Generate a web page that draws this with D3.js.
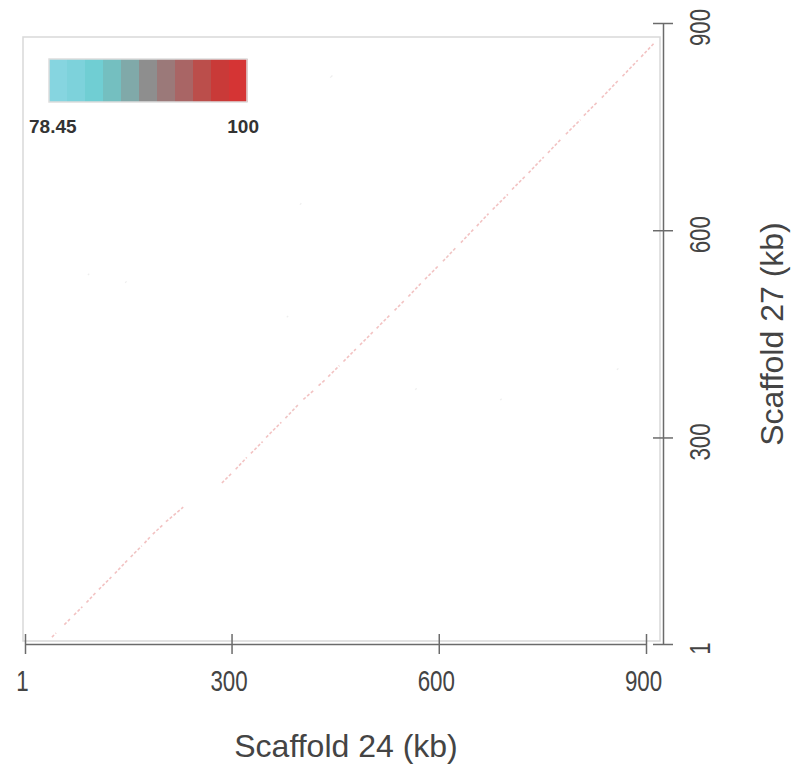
<!DOCTYPE html>
<meta charset="utf-8">
<style>
	body { margin:0; background:#fff; }
	svg { display:block; }
</style>
<script src="https://d3js.org/d3.v7.min.js"></script>
<body>
<div id="chart"></div>
<script>
	// axis ticks (kb)
	var xTicks = [1, 300, 600, 900];
	var yTicks = [1, 300, 600, 900];

	// identity legend: min / max and the 11 colour steps
	var identityRange = [78.45, 100];
	var legendColors = ["#86d5e0", "#7dd2db", "#70ced3", "#74bfc0", "#80a9a9", "#8e8e8e",
		"#9b7979", "#a96565", "#bb4e4b", "#c93a38", "#d53434"];

	// alignment segments along the synteny diagonal: [x1, y1, x2, y2] in kb, identity %
	var diagSegs = [
		[40,11,46,17],[58,29,66,37],[72,43,84,55],[90,61,104,76],[108,80,126,98],
		[131,103,150,123],[154,127,170,143],[174,147,182,156],[186,160,200,173],[205,178,230,199],
		[286,234,300,248],[306,254,322,271],[328,277,345,294],[350,300,372,322],[378,328,398,349],
		[404,355,420,369],[426,375,435,383],[440,388,456,404],[462,410,480,428],[486,434,505,453],
		[510,458,530,478],[536,484,551,499],[556,504,575,524],[580,529,600,549],[606,555,625,575],
		[632,582,650,601],[655,606,672,624],[678,630,700,652],[706,659,725,678],[730,683,752,706],
		[758,712,778,733],[784,739,805,760],[810,766,830,786],[836,792,860,817],[866,823,888,846],
		[893,851,911,870]
	];
	var diagIdentity = [99, 100, 99, 100, 99, 100, 98, 100, 99, 100, 99, 100, 99, 100, 98, 100,
		99, 100, 99, 100, 99, 100, 99, 100, 98, 100, 99, 100, 99, 100, 99, 100, 99, 100, 99, 100];

	// scattered faint hits off the diagonal
	var strayHits = [[443,821,446,824],[92,535,94,537],[146,524,148,526],[399,637,401,639],
		[380,474,382,476],[566,369,568,371],[689,354,691,356],[858,398,860,400]];

	var width = 793, height = 767;
	var svg = d3.select("#chart").append("svg")
		.attr("width", width)
		.attr("height", height);

	var x = d3.scaleLinear().domain([1, 900]).range([25, 646]);
	var y = d3.scaleLinear().domain([1, 900]).range([644, 23]);

	var color = d3.scaleQuantize().domain(identityRange).range(legendColors);

	// plot frame
	svg.append("rect")
		.attr("x", 23).attr("y", 37)
		.attr("width", 637).attr("height", 604)
		.attr("fill", "none")
		.attr("stroke", "#d9d9d9")
		.attr("stroke-width", 1.5);

	// alignments
	svg.append("g").selectAll("line")
		.data(diagSegs)
		.enter().append("line")
		.attr("x1", function(d) { return x(d[0]); })
		.attr("y1", function(d) { return y(d[1]); })
		.attr("x2", function(d) { return x(d[2]); })
		.attr("y2", function(d) { return y(d[3]); })
		.attr("stroke", function(d, i) { return color(diagIdentity[i]); })
		.attr("stroke-opacity", 0.3)
		.attr("stroke-width", 1.6)
		.attr("stroke-dasharray", "3,2");

	svg.append("g").selectAll("line")
		.data(strayHits)
		.enter().append("line")
		.attr("x1", function(d) { return x(d[0]); })
		.attr("y1", function(d) { return y(d[1]); })
		.attr("x2", function(d) { return x(d[2]); })
		.attr("y2", function(d) { return y(d[3]); })
		.attr("stroke", "#bbbbbb")
		.attr("stroke-opacity", 0.25)
		.attr("stroke-width", 1.2);

	// x axis
	var gx = svg.append("g")
		.attr("transform", "translate(0,644)")
		.call(d3.axisBottom(x).tickValues(xTicks).tickSize(10).tickSizeOuter(0));
	gx.select(".domain").attr("stroke", "#6b6b6b").attr("stroke-width", 1.5);
	gx.selectAll(".tick line").attr("y1", -10).attr("y2", 10)
		.attr("stroke", "#6b6b6b").attr("stroke-width", 1.5);
	gx.selectAll(".tick text")
		.attr("y", 47).attr("dy", 0)
		.attr("transform", "translate(-3,0) scale(0.77,1)")
		.attr("fill", "#444")
		.style("font", "29px 'Liberation Sans', Arial, sans-serif");

	// y axis (right side)
	var gy = svg.append("g")
		.attr("transform", "translate(663,0)")
		.call(d3.axisRight(y).tickValues(yTicks).tickSize(10).tickSizeOuter(0));
	gy.select(".domain").attr("stroke", "#6b6b6b").attr("stroke-width", 1.5);
	gy.selectAll(".tick line").attr("x1", -10).attr("x2", 10)
		.attr("stroke", "#6b6b6b").attr("stroke-width", 1.5);
	gy.selectAll(".tick text")
		.attr("x", 0).attr("dy", 0)
		.attr("text-anchor", "middle")
		.attr("transform", "translate(47,4) rotate(-90) scale(0.77,1)")
		.attr("fill", "#444")
		.style("font", "29px 'Liberation Sans', Arial, sans-serif");

	// axis titles
	svg.append("text")
		.attr("x", 346).attr("y", 757)
		.attr("text-anchor", "middle")
		.attr("fill", "#444")
		.style("font", "32px 'Liberation Sans', Arial, sans-serif")
		.text("Scaffold 24 (kb)");

	svg.append("text")
		.attr("transform", "translate(783,334) rotate(-90)")
		.attr("text-anchor", "middle")
		.attr("fill", "#444")
		.style("font", "32px 'Liberation Sans', Arial, sans-serif")
		.text("Scaffold 27 (kb)");

	// identity colour bar
	var lx = d3.scaleBand().domain(d3.range(legendColors.length)).range([49, 247]);
	var legend = svg.append("g");
	legend.selectAll("rect")
		.data(legendColors)
		.enter().append("rect")
		.attr("x", function(d, i) { return lx(i); })
		.attr("y", 59)
		.attr("width", lx.bandwidth() + 0.5)
		.attr("height", 43)
		.attr("fill", function(d) { return d; });
	legend.append("rect")
		.attr("x", 49).attr("y", 59)
		.attr("width", 198).attr("height", 43)
		.attr("fill", "none")
		.attr("stroke", "#dddddd")
		.attr("stroke-width", 1.5);

	legend.append("text")
		.attr("x", 29).attr("y", 133)
		.attr("fill", "#333")
		.style("font", "bold 19px 'Liberation Sans', Arial, sans-serif")
		.text(identityRange[0]);
	legend.append("text")
		.attr("x", 259).attr("y", 133)
		.attr("text-anchor", "end")
		.attr("fill", "#333")
		.style("font", "bold 19px 'Liberation Sans', Arial, sans-serif")
		.text(identityRange[1]);
</script>
</body>
